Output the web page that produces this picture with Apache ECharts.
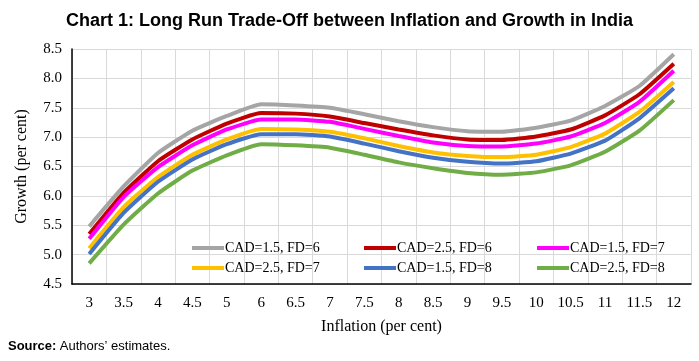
<!DOCTYPE html>
<html>
<head>
<meta charset="utf-8">
<script src="https://cdn.jsdelivr.net/npm/echarts@6/dist/echarts.min.js"></script>
<style>html,body{margin:0;padding:0;background:#fff;}#c{width:699px;height:361px;}</style>
</head>
<body>
<div id="c"></div>
<script>
var categories = ['3','3.5','4','4.5','5','6','6.5','7','7.5','8','8.5','9','9.5','10','10.5','11','11.5','12'];
var seriesNames = ['CAD=1.5, FD=6','CAD=2.5, FD=6','CAD=1.5, FD=7','CAD=2.5, FD=7','CAD=1.5, FD=8','CAD=2.5, FD=8'];
var cad15fd6 = [5.48,6.16,6.73,7.11,7.36,7.56,7.54,7.50,7.39,7.27,7.17,7.10,7.09,7.16,7.28,7.53,7.87,8.41];
var cad25fd6 = [5.35,6.05,6.59,6.96,7.23,7.41,7.40,7.35,7.24,7.13,7.03,6.96,6.95,7.01,7.13,7.37,7.73,8.25];
var cad15fd7 = [5.27,5.98,6.49,6.86,7.13,7.30,7.30,7.26,7.14,7.02,6.91,6.85,6.84,6.89,7.01,7.24,7.60,8.13];
var cad25fd7 = [5.11,5.81,6.32,6.70,6.96,7.14,7.13,7.09,6.98,6.85,6.74,6.68,6.66,6.70,6.83,7.06,7.43,7.94];
var cad15fd8 = [5.01,5.71,6.24,6.62,6.88,7.05,7.05,7.01,6.89,6.76,6.65,6.58,6.55,6.59,6.72,6.94,7.32,7.83];
var cad25fd8 = [4.85,5.51,6.04,6.43,6.69,6.88,6.86,6.82,6.70,6.57,6.47,6.39,6.36,6.40,6.52,6.75,7.11,7.63];
var yTicks = {min: 4.5, max: 8.5, interval: 0.5};

var allData = [cad15fd6, cad25fd6, cad15fd7, cad25fd7, cad15fd8, cad25fd8];
var colors = ['#A5A5A5','#C00000','#FF00FF','#FFC000','#4472C4','#70AD47'];
var serif = 'Liberation Serif';

var chart = echarts.init(document.getElementById('c'), null, {renderer: 'canvas'});
var series = allData.map(function (d, i) {
  return {
    name: seriesNames[i], type: 'line', data: d, smooth: 0.15,
    symbol: 'none', lineStyle: {width: 4, color: colors[i]}, itemStyle: {color: colors[i]}, z: 3
  };
});
function legendCol(names, left) {
  return {
    orient: 'vertical', left: left, top: 235, data: names,
    icon: 'rect', itemWidth: 32, itemHeight: 4, itemGap: 4,
    textStyle: {fontFamily: serif, fontSize: 14, color: '#000', lineHeight: 16, padding: [0,0,0,-4]},
    backgroundColor: 'rgba(0,0,0,0)'
  };
}
chart.setOption({
  animation: false,
  backgroundColor: '#fff',
  title: {
    text: '{a|Chart 1:} {b|Long Run Trade-Off between Inflation and Growth in India}',
    left: 'center', top: 7,
    textStyle: {
      rich: {
        a: {fontFamily: 'Liberation Sans Narrow, Liberation Sans', fontSize: 18, color: '#000'},
        b: {fontFamily: 'Liberation Sans', fontWeight: 'bold', fontSize: 18, color: '#000'}
      }
    }
  },
  legend: [
    legendCol([seriesNames[0], seriesNames[3]], 187),
    legendCol([seriesNames[1], seriesNames[4]], 359),
    legendCol([seriesNames[2], seriesNames[5]], 532)
  ],
  grid: {left: 72, right: 8, top: 49, bottom: 77},
  xAxis: {
    type: 'category', data: categories, boundaryGap: true,
    name: 'Inflation (per cent)', nameLocation: 'middle', nameGap: 35,
    nameTextStyle: {fontFamily: serif, fontSize: 16, color: '#000'},
    axisLine: {show: true, lineStyle: {color: '#000', width: 1.5}},
    axisTick: {show: false},
    axisLabel: {fontFamily: serif, fontSize: 15, color: '#000', margin: 12, interval: 0},
    splitLine: {show: true, lineStyle: {color: '#d9d9d9', width: 1}}
  },
  yAxis: {
    type: 'value', min: yTicks.min, max: yTicks.max, interval: yTicks.interval,
    name: 'Growth (per cent)', nameLocation: 'middle', nameGap: 42,
    nameTextStyle: {fontFamily: serif, fontSize: 16, color: '#000'},
    axisLine: {show: true, lineStyle: {color: '#000', width: 1.5}},
    axisTick: {show: false},
    axisLabel: {fontFamily: serif, fontSize: 15, color: '#000', margin: 10,
      formatter: function (v) { return v.toFixed(1); }},
    splitLine: {show: true, lineStyle: {color: '#d9d9d9', width: 1}}
  },
  graphic: [{
    type: 'text', left: 8, top: 340,
    style: {
      text: '{s|Source:} {t|Authors\u2019 estimates.}',
      rich: {
        s: {fontFamily: 'Liberation Sans', fontWeight: 'bold', fontSize: 13, fill: '#000'},
        t: {fontFamily: 'Liberation Sans', fontSize: 13, fill: '#000'}
      }
    }
  }],
  series: series
});
</script>
</body>
</html>
